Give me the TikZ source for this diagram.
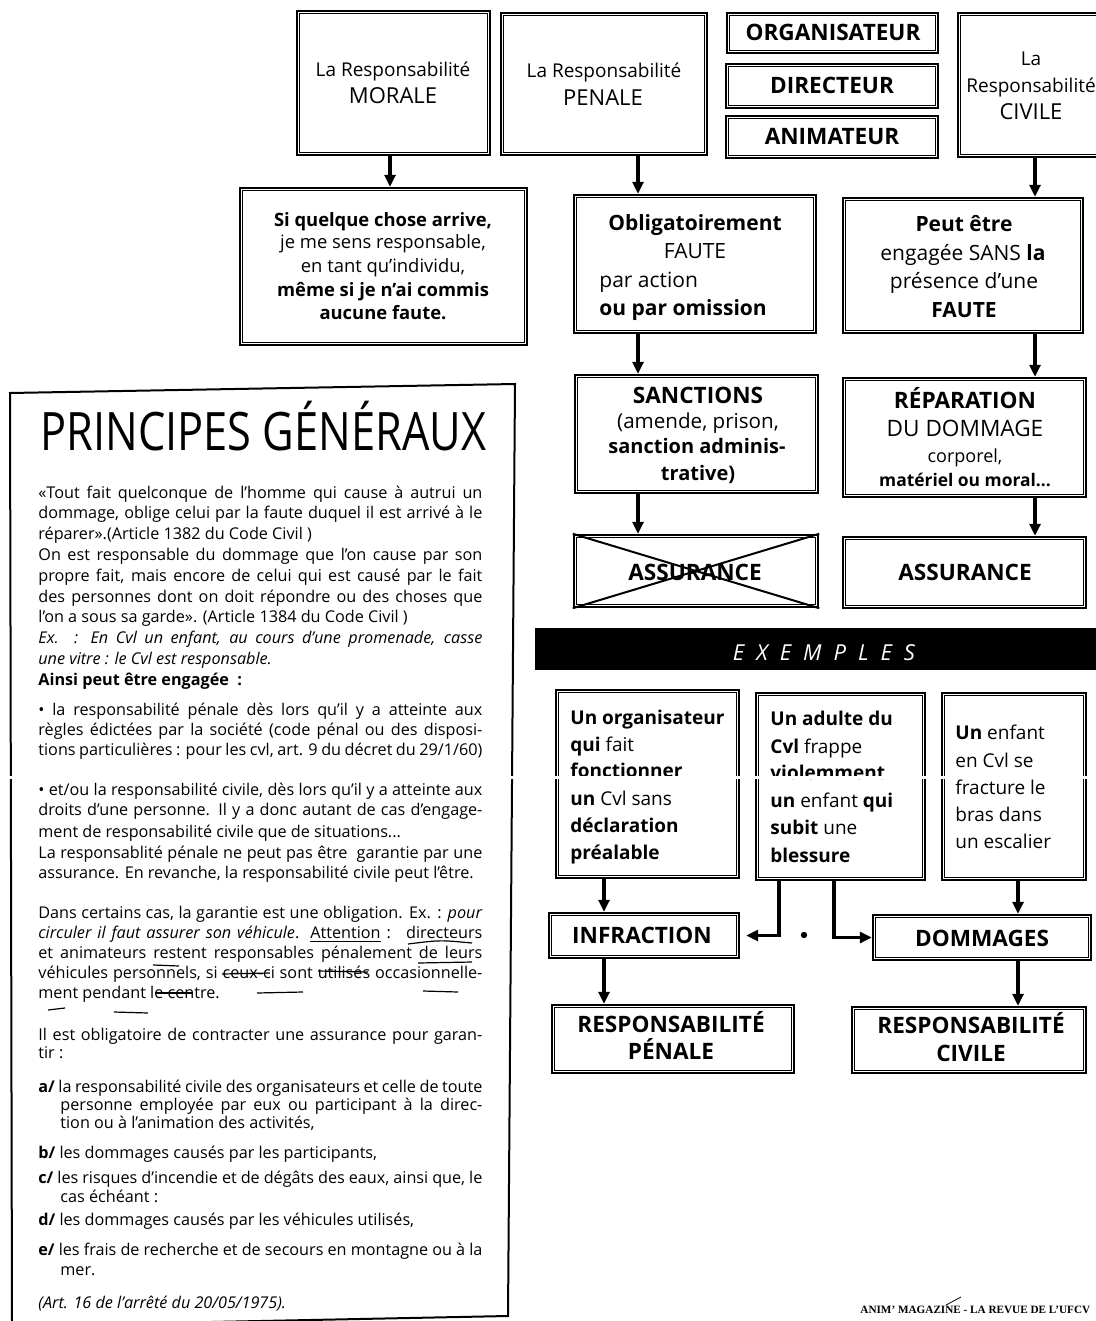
\documentclass[tikz,border=0pt]{standalone}
\usepackage{graphicx}
\usepackage{fontspec}
\setmainfont{Open Sans}
\newfontfamily\footfont{Liberation Serif}
\usetikzlibrary{arrows.meta,fit,calc}
\newcommand\fs[1]{\fontsize{#1}{#1}\selectfont}
\newcommand\jl[1]{\makebox[222pt][s]{#1}}
\newcommand\jli[1]{\makebox[211pt][s]{#1}}
\begin{document}
\begin{tikzpicture}[x=0.5pt,y=-0.5pt,
  box/.style={draw, line width=1.2pt, inner sep=0pt},
  arr/.style={line width=1.6pt, -{Triangle[length=6pt,width=5.5pt]}},
  lbl/.style={anchor=base, inner sep=0pt},
  lbw/.style={anchor=base west, inner sep=0pt},
  body/.style={lbw, font=\fs{8.1}},
  capb/.style={lbl, font=\bfseries\fs{11.3}},
  exf/.style={lbw, font=\fs{9.5}},
  handmark/.style={line width=0.6pt}]
\fill[white] (0,0) rectangle (1096,1321);
\useasboundingbox (0,0) rectangle (1096,1321);

% ---------- boxes ----------
\node[box, fit={(297,11) (490,155)}] (morale) {};
\node[box, fit={(501,13) (707,155)}] (penale) {};
\node[box, fit={(727,13) (938,53)}] (org) {};
\node[box, fit={(726,64) (938,108)}] (dir) {};
\node[box, fit={(726,116) (938,158)}] (anim) {};
\node[box, fit={(958,13) (1112,157)}] (civile) {};
\node[box, fit={(240,188) (527,345)}] (si) {};
\node[box, fit={(574,195) (816,333)}] (oblig) {};
\node[box, fit={(843,198) (1083,333)}] (peut) {};
\node[box, fit={(575,375) (818,493)}] (sanc) {};
\node[box, fit={(843,378) (1086,497)}] (rep) {};
\node[box, fit={(574,535) (818,607)}] (assx) {};
\node[box, fit={(843,537) (1086,608)}] (ass) {};
\node[box, fit={(556,690) (739,878)}] (ex1) {};
\node[box, fit={(756,693) (925,880)}] (ex2) {};
\node[box, fit={(942,693) (1086,880)}] (ex3) {};
\node[box, fit={(549,913) (739,958)}] (infr) {};
\node[box, fit={(873,915) (1091,960)}] (dom) {};
\node[box, fit={(552,1005) (794,1073)}] (rpen) {};
\node[box, fit={(852,1007) (1086,1073)}] (rciv) {};
\foreach \n in {morale,penale,org,dir,anim,civile,si,oblig,peut,sanc,rep,assx,ass,ex1,ex2,ex3,infr,dom,rpen,rciv}
  \draw[line width=0.5pt] ([shift={(1.9pt,-1.9pt)}]\n.north west) rectangle ([shift={(-1.9pt,1.9pt)}]\n.south east);

\node[fill=black, inner sep=0pt, fit={(535,628) (1096,670)}] (exbar) {};

% ---------- texts in boxes ----------
\node[lbl, font=\fs{9.5}] (tm1) at (393,77) {La Responsabilité};
\node[lbl, font=\fs{11}] (tm2) at (393,104) {MORALE};
\node[lbl, font=\fs{9.5}] (tp1) at (604,78) {La Responsabilité};
\node[lbl, font=\fs{11}] (tp2) at (603,106) {PENALE};
\node[capb] (to) at (833,41) {ORGANISATEUR};
\node[capb] (td) at (832,94) {DIRECTEUR};
\node[capb] (ta) at (832,145) {ANIMATEUR};
\node[lbl, font=\fs{9.5}] (tc1) at (1031,66) {La};
\node[lbl, font=\fs{9.5}] (tc2) at (1031,93) {Responsabilité};
\node[lbl, font=\fs{11}] (tc3) at (1031,120) {CIVILE};

\node[lbl, font=\bfseries\fs{9.2}] (ts1) at (383,227) {Si quelque chose arrive,};
\node[lbl, font=\fs{9.2}] (ts2) at (383,249) {je me sens responsable,};
\node[lbl, font=\fs{9.2}] (ts3) at (383,272) {en tant qu’individu,};
\node[lbl, font=\bfseries\fs{9.2}] (ts4) at (383,296) {même si je n’ai commis};
\node[lbl, font=\bfseries\fs{9.2}] (ts5) at (383,319) {aucune faute.};

\node[lbl, font=\bfseries\fs{10.5}] (tob1) at (695,230) {Obligatoirement};
\node[lbl, font=\fs{10.5}] (tob2) at (695,258) {FAUTE};
\node[lbw, font=\fs{10.5}] (tob3) at (599,287) {par action};
\node[lbw, font=\bfseries\fs{10.5}] (tob4) at (599,315) {ou par omission};

\node[lbl, font=\bfseries\fs{10.5}] (tpe1) at (964,232) {Peut être};
\node[lbl, font=\fs{10.5}] (tpe2) at (963,260) {engagée SANS \textbf{la}};
\node[lbl, font=\fs{10.5}] (tpe3) at (964,288) {présence d’une};
\node[lbl, font=\bfseries\fs{10.5}] (tpe4) at (964,317) {FAUTE};

\node[capb] (tsa1) at (698,403) {SANCTIONS};
\node[lbl, font=\fs{10.3}] (tsa2) at (698,428) {(amende, prison,};
\node[lbl, font=\bfseries\fs{10}] (tsa3) at (697,453) {sanction adminis-};
\node[lbl, font=\bfseries\fs{10}] (tsa4) at (698,480) {trative)};

\node[capb] (tr1) at (965,408) {RÉPARATION};
\node[lbl, font=\fs{11.3}] (tr2) at (965,436) {DU DOMMAGE};
\node[lbl, font=\fs{9}] (tr3) at (965,462) {corporel,};
\node[lbl, font=\bfseries\fs{8.7}] (tr4) at (965,486) {matériel ou moral...};

\node[capb] (tax) at (695,580) {ASSURANCE};
\node[capb] (tas) at (965,580) {ASSURANCE};

\node[lbl, font=\itshape\fs{11}, text=white] (tex) at (824,660)
  {E\hspace{6pt}X\hspace{6pt}E\hspace{6pt}M\hspace{6pt}P\hspace{6pt}L\hspace{6pt}E\hspace{6pt}S};

\node[exf] (e11) at (570,724) {\textbf{Un organisateur}};
\node[exf] (e12) at (570,751) {\textbf{qui} fait};
\node[exf] (e13) at (570,777) {\textbf{fonctionner}};
\node[exf] (e14) at (570,805) {\textbf{un} Cvl sans};
\node[exf] (e15) at (570,832) {\textbf{déclaration}};
\node[exf] (e16) at (570,859) {\textbf{préalable}};

\node[exf] (e21) at (770,725) {\textbf{Un adulte du}};
\node[exf] (e22) at (770,753) {\textbf{Cvl} frappe};
\node[exf] (e23) at (770,779) {\textbf{violemment}};
\node[exf] (e24) at (770,807) {\textbf{un} enfant \textbf{qui}};
\node[exf] (e25) at (770,834) {\textbf{subit} une};
\node[exf] (e26) at (770,862) {\textbf{blessure}};

\node[exf] (e31) at (955,739) {\textbf{Un} enfant};
\node[exf] (e32) at (955,767) {en Cvl se};
\node[exf] (e33) at (955,794) {fracture le};
\node[exf] (e34) at (955,821) {bras dans};
\node[exf] (e35) at (955,848) {un escalier};

\node[capb] (ti) at (642,943) {INFRACTION};
\node[capb] (tdm) at (982,946) {DOMMAGES};
\node[capb] (trp1) at (671,1032) {RESPONSABILITÉ};
\node[capb] (trp2) at (671,1059) {PÉNALE};
\node[capb] (trc1) at (971,1033) {RESPONSABILITÉ};
\node[capb] (trc2) at (971,1061) {CIVILE};

% crossed assurance
\draw[line width=1pt] (assx.north west) -- (assx.south east)
                      (assx.south west) -- (assx.north east);

% ---------- connectors ----------
\coordinate (c1) at (390,0);
\coordinate (c2) at (638,0);
\coordinate (c3) at (1035,0);
\coordinate (c4) at (604,0);
\coordinate (c5) at (1018,0);
\coordinate (c6) at (779,0);
\coordinate (c7) at (834,0);
\draw[arr] (morale.south -| c1) -- (si.north -| c1);
\draw[arr] (penale.south -| c2) -- (oblig.north -| c2);
\draw[arr] (oblig.south -| c2) -- (sanc.north -| c2);
\draw[arr] (sanc.south -| c2) -- (assx.north -| c2);
\draw[arr] (civile.south -| c3) -- (peut.north -| c3);
\draw[arr] (peut.south -| c3) -- (rep.north -| c3);
\draw[arr] (rep.south -| c3) -- (ass.north -| c3);
\draw[arr] (ex1.south -| c4) -- (infr.north -| c4);
\draw[arr] (infr.south -| c4) -- (rpen.north -| c4);
\draw[arr] (ex3.south -| c5) -- (dom.north -| c5);
\draw[arr] (dom.south -| c5) -- (rciv.north -| c5);
\draw[arr, shorten >=3pt] (ex2.south -| c6) |- (infr.east);
\draw[arr] (ex2.south -| c7) |- (dom.west);
\fill (804,935) circle (1.6pt);

% ---------- principes generaux ----------
\draw[line width=1pt] (12,1326) -- (10,393) -- (515,384) -- (508,1316) -- (12,1326);
\node[lbw, font=\fs{26.5}] (title) at (40,450) {\scalebox{0.818}[1]{PRINCIPES GÉNÉRAUX}};

\node[body] (l1) at (38,498) {\jl{«Tout fait quelconque de l’homme qui cause à autrui un}};
\node[body] (l2) at (38,518.8) {\jl{dommage, oblige celui par la faute duquel il est arrivé à le}};
\node[body] (l3) at (38,539.6) {réparer».(Article 1382 du Code Civil )};
\node[body] (l4) at (38,560.4) {\jl{On est responsable du dommage que l’on cause par son}};
\node[body] (l5) at (38,581.2) {\jl{propre fait, mais encore de celui qui est causé par le fait}};
\node[body] (l6) at (38,602) {\jl{des personnes dont on doit répondre ou des choses que}};
\node[body] (l7) at (38,622.8) {l’on a sous sa garde». (Article 1384 du Code Civil )};
\node[body] (l8) at (38,643.6) {\jl{\itshape Ex. : En Cvl un enfant, au cours d’une promenade, casse}};
\node[body] (l9) at (38,664.4) {\itshape une vitre : le Cvl est responsable.};
\node[body] (l10) at (38,685.2) {\bfseries Ainsi peut être engagée~ :};
\node[body] (l11) at (38,715) {\jl{• la responsabilité pénale dès lors qu’il y a atteinte aux}};
\node[body] (l12) at (38,735) {\jl{règles édictées par la société (code pénal ou des disposi-}};
\node[body] (l13) at (38,755) {\jl{tions particulières : pour les cvl, art. 9 du décret du 29/1/60)}};
\node[body] (l14) at (38,795) {\jl{• et/ou la responsabilité civile, dès lors qu’il y a atteinte aux}};
\node[body] (l15) at (38,815) {\jl{droits d’une personne. Il y a donc autant de cas d’engage-}};
\node[body] (l16) at (38,837) {ment de responsabilité civile que de situations...};
\node[body] (l17) at (38,858) {\jl{La responsablité pénale ne peut pas être~ garantie par une}};
\node[body] (l18) at (38,878) {assurance. En revanche, la responsabilité civile peut l’être.};
\node[body] (l19) at (38,918) {\jl{Dans certains cas, la garantie est une obligation. Ex. : \textit{pour}}};
\node[body] (l20) at (38,938) {\jl{\textit{circuler il faut assurer son véhicule}. \underline{Attention} :~ directeurs}};
\node[body] (l21) at (38,958) {\jl{et animateurs restent responsables pénalement de leurs}};
\node[body] (l22) at (38,978) {\jl{véhicules personnels, si ceux-ci sont utilisés occasionnelle-}};
\node[body] (l23) at (38,998) {ment pendant le centre.};
\node[body] (l24) at (38,1040) {\jl{Il est obligatoire de contracter une assurance pour garan-}};
\node[body] (l25) at (38,1058) {tir :};
\node[body] (l26) at (38,1092) {\jl{\textbf{a/} la responsabilité civile des organisateurs et celle de toute}};
\node[body] (l27) at (60,1110) {\jli{personne employée par eux ou participant à la direc-}};
\node[body] (l28) at (60,1128) {tion ou à l’animation des activités,};
\node[body] (l29) at (38,1158) {\textbf{b/} les dommages causés par les participants,};
\node[body] (l30) at (38,1183) {\jl{\textbf{c/} les risques d’incendie et de dégâts des eaux, ainsi que, le}};
\node[body] (l31) at (60,1202) {cas échéant :};
\node[body] (l32) at (38,1225) {\textbf{d/} les dommages causés par les véhicules utilisés,};
\node[body] (l33) at (38,1255) {\jl{\textbf{e/} les frais de recherche et de secours en montagne ou à la}};
\node[body] (l34) at (60,1275) {mer.};
\node[body] (l35) at (38,1308) {\itshape (Art. 16 de l’arrêté du 20/05/1975).};

% handwritten marks
\draw[handmark] (408,944) .. controls (440,940) .. (472,943);
\draw[handmark] (418,963) -- (472,962);
\draw[handmark] (153,965) -- (179,966);
\draw[handmark] (222,974) -- (270,973);
\draw[handmark] (318,971) -- (368,972);
\draw[handmark] (155,993) -- (193,993);
\draw[handmark] (257,993) -- (303,992);
\draw[handmark] (423,991) -- (458,992);
\draw[handmark] (48,1010) -- (65,1008);
\draw[handmark] (114,1012) -- (148,1013);

% scan gap
\fill[white] (0,776) rectangle (1096,779);

% footer
\node[lbw, font=\footfont\bfseries\fs{5.6}] (foot) at (860,1313) {ANIM’ MAGAZINE - LA REVUE DE L’UFCV};
\draw[line width=0.4pt] (946,1305) -- (961,1297);
\end{tikzpicture}
\end{document}
